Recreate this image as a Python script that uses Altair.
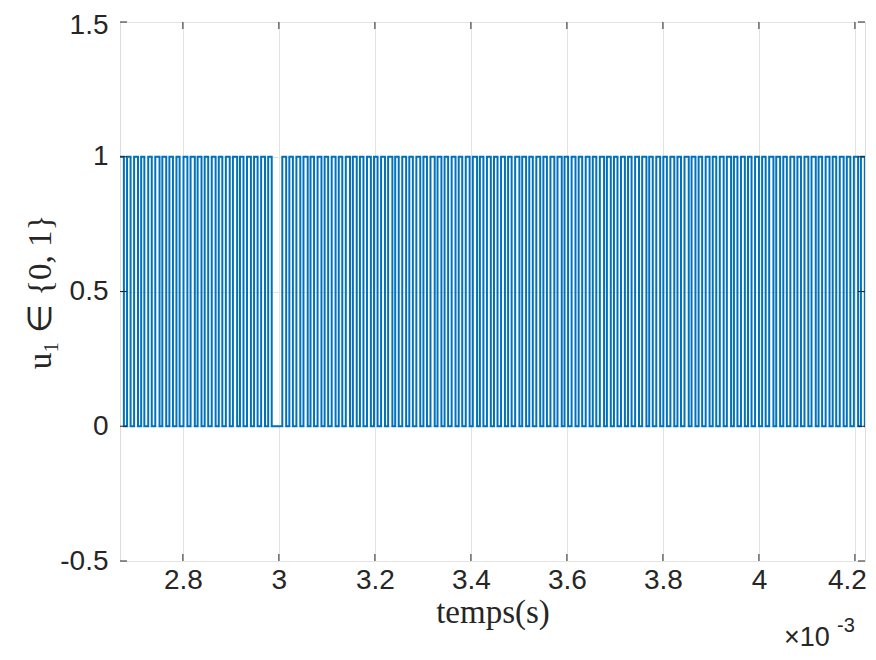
import altair as alt
import pandas as pd

# ---- data (time in units of 1e-3 s) ----
t_start = 2.669
t_end = 4.221
carrier_period = 0.0147
# duty cycle of each carrier period
duty = [0.55, 0.5, 0.55, 0.45, 0.5, 0.6, 0.55, 0.5, 0.45, 0.55,
        0.6, 0.55, 0.5, 0.55, 0.5, 0.55, 0.6, 0.5, 0.55, 0.5,
        0.55, 0.5, 0.0, 0.55, 0.5, 0.55, 0.6, 0.5, 0.55, 0.5,
        0.55, 0.5, 0.6, 0.55, 0.5, 0.55, 0.5, 0.55, 0.6, 0.5,
        0.55, 0.5, 0.55, 0.5, 0.6, 0.55, 0.5, 0.55, 0.5, 0.55,
        0.6, 0.5, 0.55, 0.5, 0.55, 0.5, 0.6, 0.55, 0.5, 0.55,
        0.5, 0.55, 0.6, 0.5, 0.55, 0.5, 0.55, 0.5, 0.6, 0.55,
        0.5, 0.55, 0.5, 0.55, 0.6, 0.5, 0.55, 0.5, 0.55, 0.5,
        0.6, 0.55, 0.5, 0.55, 0.5, 0.55, 0.6, 0.5, 0.55, 0.5,
        0.55, 0.5, 0.6, 0.55, 0.5, 0.55, 0.5, 0.55, 0.6, 0.5,
        0.55, 0.5, 0.55, 0.5, 0.6, 0.55]

x_ticks = [2.8, 3.0, 3.2, 3.4, 3.6, 3.8, 4.0, 4.2]
y_ticks = [-0.5, 0.0, 0.5, 1.0, 1.5]

rows = []
for k, d in enumerate(duty):
    t0 = t_start + k * carrier_period
    if t0 >= t_end:
        break
    if d > 0:
        rows.append({"t": t0, "u": 1})
        rows.append({"t": min(t0 + d * carrier_period, t_end), "u": 0})
    else:
        rows.append({"t": t0, "u": 0})
rows.append({"t": t_end, "u": rows[-1]["u"]})
sig = pd.DataFrame(rows)
sig["o"] = range(len(sig))

W, H = 745, 539
AX = "#262626"
xs = alt.Scale(domain=[t_start, t_end], nice=False, zero=False)
ys = alt.Scale(domain=[-0.5, 1.5], nice=False, zero=False)

line = alt.Chart(sig).mark_line(
    interpolate="step-after", color="#0072BD", strokeWidth=2, clip=True
).encode(
    x=alt.X("t:Q", scale=xs, axis=alt.Axis(
        values=x_ticks, labelExpr="'' + datum.value", title="temps(s)",
        grid=True, gridColor="#e3e3e3", gridWidth=1, ticks=False, domain=False,
        labelFont="Liberation Sans", labelFontSize=28, labelColor=AX, labelPadding=5,
        labelOffset={"condition": {"test": "datum.value > 4.1", "value": -8}, "value": 0},
        titleFont="Liberation Serif", titleFontSize=33, titleFontWeight="normal",
        titleColor=AX, titleY=61, titleBaseline="alphabetic")),
    y=alt.Y("u:Q", scale=ys, axis=alt.Axis(
        values=y_ticks, labelExpr="'' + datum.value", title="u₁ ∈ {0, 1}",
        grid=True, gridColor="#e3e3e3", gridWidth=1, ticks=False, domain=False,
        labelFont="Liberation Sans", labelFontSize=28, labelColor=AX, labelPadding=12,
        labelOffset={"condition": {"test": "datum.value > 1.4", "value": 3}, "value": 0},
        titleFont="Liberation Serif", titleFontSize=33, titleFontWeight="normal",
        titleColor=AX, titleAngle=-90, titleX=-80, titleY=H / 2,
        titleAlign="center", titleBaseline="middle")),
    order="o:Q",
)

xt = pd.DataFrame({"t": x_ticks})
yt = pd.DataFrame({"v": y_ticks})
tick_style = dict(color=AX, strokeWidth=1)
xb = alt.Chart(xt).mark_rule(**tick_style).encode(
    x=alt.X("t:Q", scale=xs), y=alt.value(H), y2=alt.value(H - 7))
xtop = alt.Chart(xt).mark_rule(**tick_style).encode(
    x=alt.X("t:Q", scale=xs), y=alt.value(0), y2=alt.value(7))
yl = alt.Chart(yt).mark_rule(**tick_style).encode(
    y=alt.Y("v:Q", scale=ys), x=alt.value(0), x2=alt.value(7))
yr = alt.Chart(yt).mark_rule(**tick_style).encode(
    y=alt.Y("v:Q", scale=ys), x=alt.value(W), x2=alt.value(W - 7))

mult = alt.Chart(pd.DataFrame({"s": ["×10"]})).mark_text(
    font="Liberation Sans", fontSize=27, color=AX, align="left", baseline="alphabetic"
).encode(text="s:N", x=alt.value(664), y=alt.value(624))
expo = alt.Chart(pd.DataFrame({"s": ["-3"]})).mark_text(
    font="Liberation Sans", fontSize=20, color=AX, align="left", baseline="alphabetic"
).encode(text="s:N", x=alt.value(717), y=alt.value(610))

chart = alt.layer(line, xb, xtop, yl, yr, mult, expo).properties(
    width=W, height=H,
    autosize=alt.AutoSizeParams(type="none"),
    padding={"left": 112, "top": 14, "right": 3, "bottom": 90},
).configure_view(stroke=AX, strokeWidth=1).configure(background="white")

chart.save("out.html", embed_options={"renderer": "svg", "actions": False})
